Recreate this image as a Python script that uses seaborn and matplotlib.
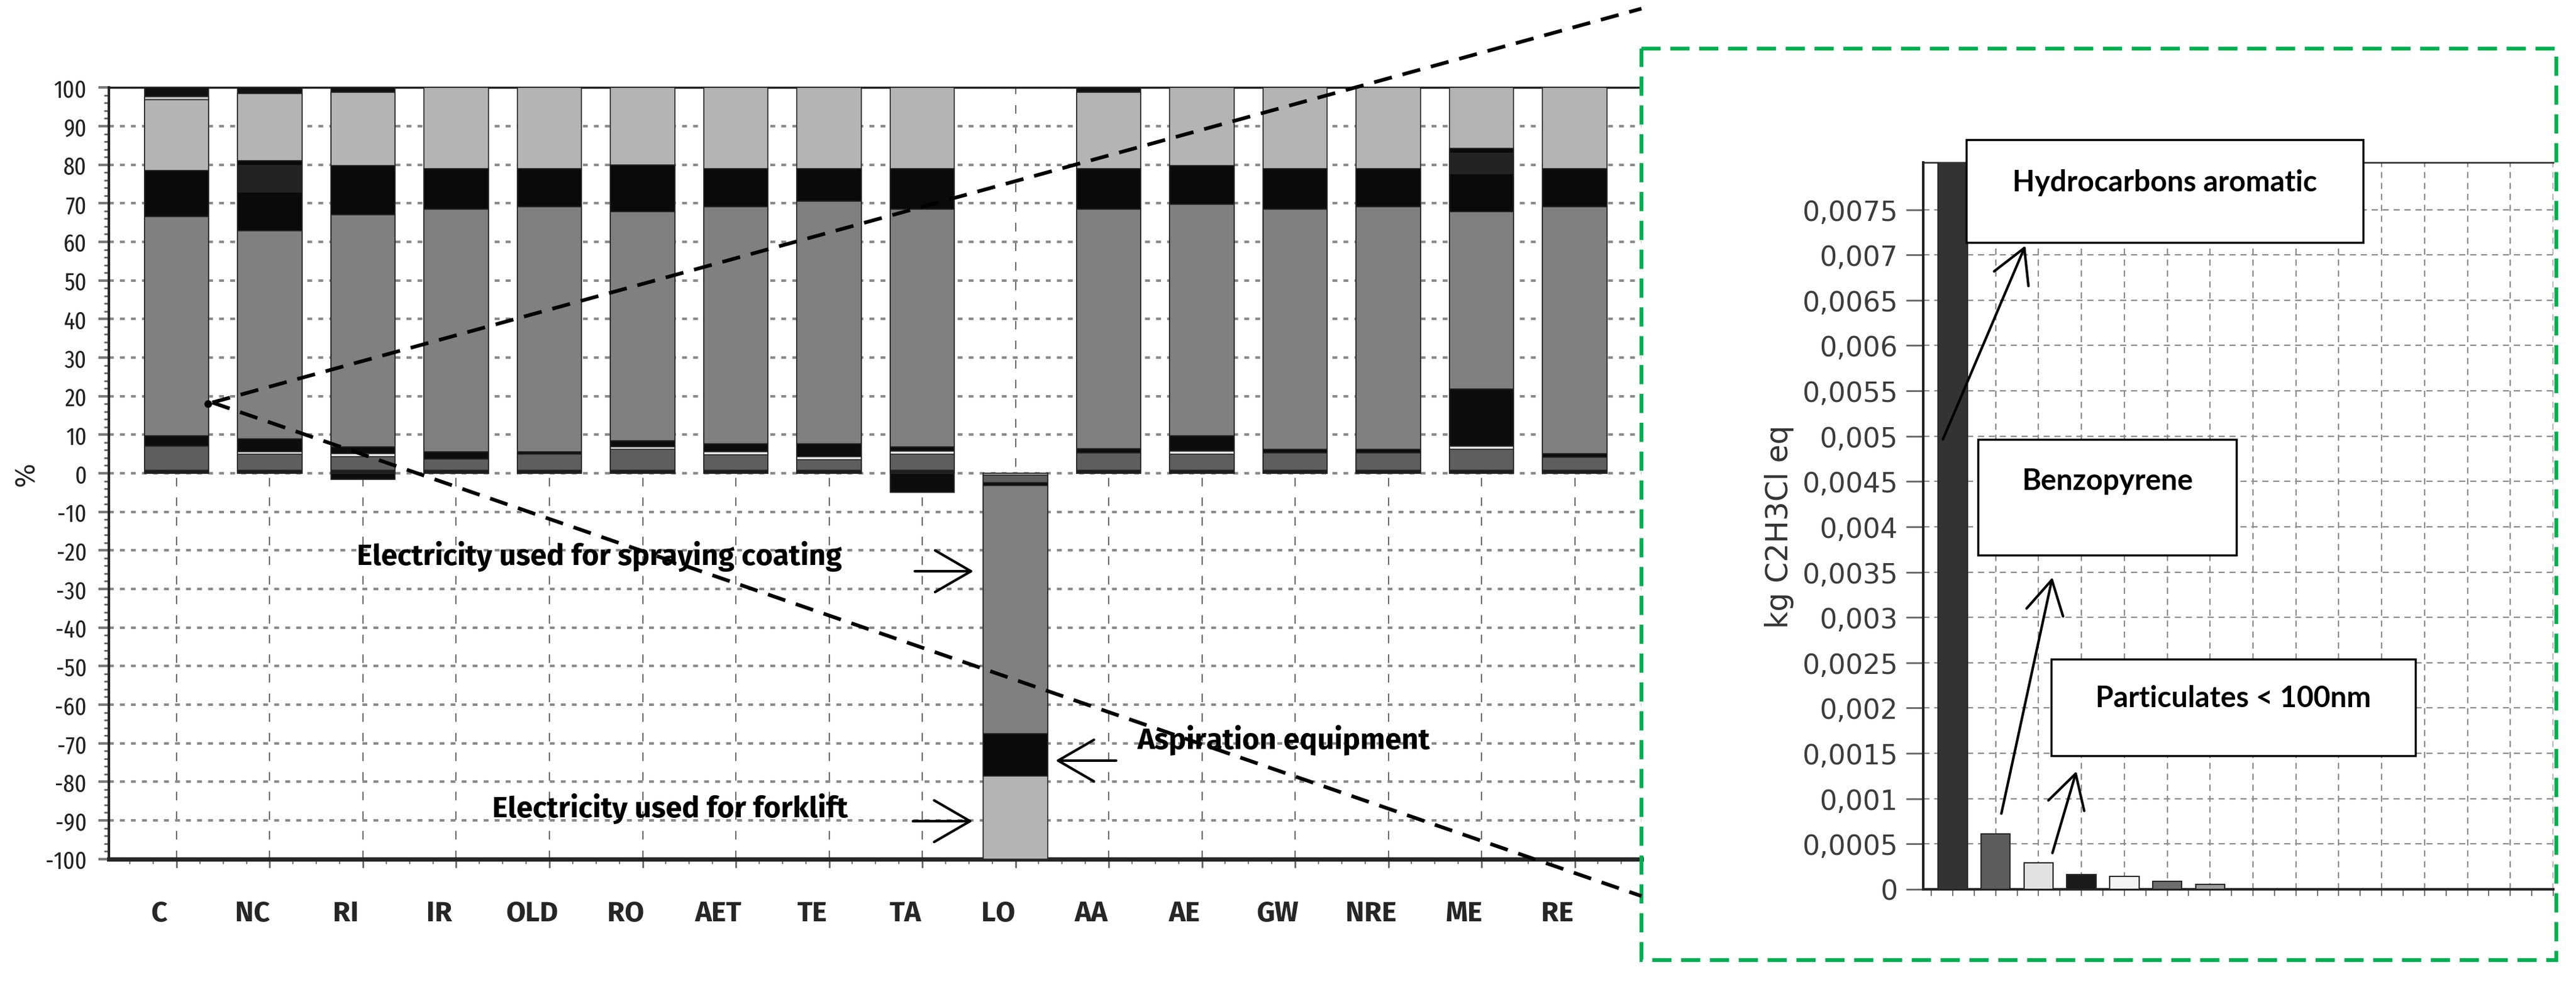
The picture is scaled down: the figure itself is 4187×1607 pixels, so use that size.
import numpy as np
import pandas as pd
import seaborn as sns
import matplotlib.pyplot as plt
from matplotlib.patches import Rectangle
from matplotlib.ticker import MultipleLocator
from matplotlib.transforms import ScaledTranslation

# ---- main chart: contribution of each process (%) per impact category ----
categories = ['C', 'NC', 'RI', 'IR', 'OLD', 'RO', 'AET', 'TE', 'TA', 'LO',
              'AA', 'AE', 'GW', 'NRE', 'ME', 'RE']

# positive stack, bottom to top
base = [0.85, 0.85, 0.85, 0.85, 0.85, 0.85, 0.85, 0.85, 0.85, 0, 0.85, 0.85, 0.85, 0.85, 0.85, 0.85]
dgrey = [6.25, 4.05, 3.4, 2.85, 4.05, 5.35, 4.0, 2.65, 4.1, 0, 4.35, 4.1, 4.35, 4.35, 5.45, 3.25]
wline = [0, 0.7, 0.8, 0, 0, 0.7, 0.75, 0.8, 0.75, 0, 0, 0.75, 0, 0, 0.7, 0]
blk1 = [2.6, 3.4, 1.85, 1.9, 0.7, 1.5, 2.1, 3.4, 1.2, 0, 1.2, 4.0, 1.1, 1.1, 14.9, 0.95]
grey = [56.8, 53.8, 60.1, 62.9, 63.5, 59.4, 61.4, 62.8, 61.6, 0, 62.1, 60.1, 62.2, 62.8, 45.9, 64.05]
blk2 = [12.0, 10.2, 12.8, 10.5, 9.9, 12.2, 9.9, 8.5, 10.5, 0, 10.5, 10.0, 10.5, 9.9, 9.9, 9.9]
dark = [0, 6.8, 0, 0, 0, 0, 0, 0, 0, 0, 0, 0, 0, 0, 5.3, 0]
blk3 = [0, 1.2, 0, 0, 0, 0, 0, 0, 0, 0, 0, 0, 0, 0, 1.3, 0]
lgrey = [18.3, 17.4, 18.9, 21.0, 21.0, 20.0, 21.0, 21.0, 21.0, 0, 19.7, 20.2, 21.0, 21.0, 15.7, 21.0]
lline = [0.8, 0, 0, 0, 0, 0, 0, 0, 0, 0, 0, 0, 0, 0, 0, 0]
top = [2.4, 1.6, 1.3, 0, 0, 0, 0, 0, 0, 0, 1.3, 0, 0, 0, 0, 0]

# negative stack, from 0 downwards
neg_lline = [0, 0, 0, 0, 0, 0, 0, 0, 0, -0.4, 0, 0, 0, 0, 0, 0]
neg_dgrey = [0, 0, 0, 0, 0, 0, 0, 0, 0, -2.0, 0, 0, 0, 0, 0, 0]
neg_blk1 = [0, 0, -1.6, 0, 0, 0, 0, 0, -4.9, -0.8, 0, 0, 0, 0, 0, 0]
neg_grey = [0, 0, 0, 0, 0, 0, 0, 0, 0, -64.3, 0, 0, 0, 0, 0, 0]
neg_blk2 = [0, 0, 0, 0, 0, 0, 0, 0, 0, -11.0, 0, 0, 0, 0, 0, 0]
neg_lgrey = [0, 0, 0, 0, 0, 0, 0, 0, 0, -21.5, 0, 0, 0, 0, 0, 0]

y_ticks = [100, 90, 80, 70, 60, 50, 40, 30, 20, 10, 0, -10, -20, -30, -40, -50, -60, -70, -80, -90, -100]
y_tick_labels = ['100', '90', '80', '70', '60', '50', '40', '30', '20', '10', '0', '-10', '-20',
                 '-30', '-40', '-50', '-60', '-70', '-80', '-90', '-100']

# ---- zoomed chart: substances ----
inset_bars = ['Hydrocarbons aromatic', 'Benzopyrene', 'Particulates < 100nm', 's4', 's5', 's6', 's7']
inset_values = [0.0081, 0.00061, 0.00029, 0.000165, 0.00014, 0.00009, 0.000055]
inset_colors = ['#333333', '#5c5c5c', '#e2e2e2', '#1a1a1a', '#f4f4f4', '#6e6e6e', '#9c9c9c']
inset_ticks = [0, 0.0005, 0.001, 0.0015, 0.002, 0.0025, 0.003, 0.0035, 0.004, 0.0045,
               0.005, 0.0055, 0.006, 0.0065, 0.007, 0.0075]
inset_tick_labels = ['0', '0,0005', '0,001', '0,0015', '0,002', '0,0025', '0,003', '0,0035',
                     '0,004', '0,0045', '0,005', '0,0055', '0,006', '0,0065', '0,007', '0,0075']

seg_colors = {'base': '#1c1c1c', 'dgrey': '#5e5e5e', 'wline': '#e8e8e8', 'blk1': '#0d0d0d',
              'grey': '#808080', 'blk2': '#0a0a0a', 'dark': '#222222', 'blk3': '#0a0a0a',
              'lgrey': '#b4b4b4', 'lline': '#c8c8c8', 'top': '#111111'}

pos = pd.DataFrame({'base': base, 'dgrey': dgrey, 'wline': wline, 'blk1': blk1, 'grey': grey,
                    'blk2': blk2, 'dark': dark, 'blk3': blk3, 'lgrey': lgrey, 'lline': lline,
                    'top': top}, index=categories)
neg = pd.DataFrame({'lline': neg_lline, 'dgrey': neg_dgrey, 'blk1': neg_blk1, 'grey': neg_grey,
                    'blk2': neg_blk2, 'lgrey': neg_lgrey}, index=categories)

sns.set_style('white')
label_font = ['Fira Sans', 'Liberation Sans', 'DejaVu Sans']
xnarrow = ['Liberation Sans Narrow', 'Fira Sans Extra Condensed', 'DejaVu Sans']
plt.rcParams['font.family'] = label_font

W, H = 4187, 1608
fig = plt.figure(figsize=(W / 100, H / 100), dpi=100)


def px_rect(l, t, r, b):
    return [l / W, 1 - b / H, (r - l) / W, (b - t) / H]


ax = fig.add_axes(px_rect(177, 143.3, 2668, 1396.7))


def draw_stack(frame, sign):
    cum = frame.cumsum(axis=1)
    for name in reversed(frame.columns):
        sub = pd.DataFrame({'cat': categories, 'h': cum[name].values, 'v': frame[name].values})
        sub = sub[sub['v'] * sign > 0]
        if sub.empty:
            continue
        sns.barplot(data=sub, x='cat', y='h', order=categories, color=seg_colors[name],
                    width=0.69, saturation=1, edgecolor='#262626', linewidth=1.2,
                    errorbar=None, ax=ax, zorder=3)


draw_stack(pos, 1)
draw_stack(neg, -1)

ax.set_xlim(-0.726, 15.716)
ax.set_ylim(-100, 100)
ax.set_xlabel('')
ax.set_ylabel('%', fontsize=30, color='#222222', family=['DejaVu Sans'])
ax.yaxis.set_label_coords(-0.0454, 0.5)
ax.set_yticks(y_ticks)
ax.set_yticklabels(y_tick_labels, fontsize=29, color='#222222', family=xnarrow)
ax.yaxis.set_minor_locator(MultipleLocator(2))
ax.xaxis.set_minor_locator(MultipleLocator(0.25))
ax.tick_params(axis='y', which='major', left=True, length=12, width=3, color='#7a7a7a', pad=14)
ax.tick_params(axis='y', which='minor', left=True, length=6, width=2, color='#666666')
ax.tick_params(axis='x', which='major', bottom=True, length=10, width=2, color='#666666', pad=38)
ax.tick_params(axis='x', which='minor', bottom=True, length=6, width=1.5, color='#777777')
ax.set_xticks(range(len(categories)))
ax.set_xticklabels(categories, fontsize=33, fontweight='bold')
for lab in ax.get_xticklabels():
    lab.set_transform(lab.get_transform() + ScaledTranslation(-0.28, 0, fig.dpi_scale_trans))

ax.set_axisbelow(True)
ax.grid(axis='y', which='major', color='#8a8a8a', lw=3, ls=(0, (1.9, 2.4)))
ax.grid(axis='x', which='major', color='#6a6a6a', lw=1.5, ls=(0, (6.7, 8.6)))
ax.spines['right'].set_visible(False)
ax.spines['left'].set_linewidth(3)
ax.spines['top'].set_linewidth(2.5)
ax.spines['top'].set_color('#222222')
ax.spines['bottom'].set_linewidth(5)

bold_label = dict(fontsize=34.5, fontweight='bold', family=label_font, color='black')
ax.text(7.14, -23.6, 'Electricity used for spraying coating', ha='right', va='baseline', **bold_label)
ax.text(7.2, -89.0, 'Electricity used for forklift', ha='right', va='baseline', **bold_label)
ax.text(10.31, -71.2, 'Aspiration equipment', ha='left', va='baseline', **bold_label)
big_head = dict(arrowstyle='->,head_length=1,head_width=0.58', mutation_scale=42, lw=3,
                color='black', shrinkA=0, shrinkB=0)
ax.annotate('', xy=(8.55, -25.4), xytext=(7.92, -25.4), arrowprops=big_head, zorder=6)
ax.annotate('', xy=(9.43, -74.5), xytext=(10.08, -74.5), arrowprops=big_head, zorder=6)
ax.annotate('', xy=(8.54, -90.2), xytext=(7.90, -90.2), arrowprops=big_head, zorder=6)

# ---- inset ----
axi = fig.add_axes(px_rect(3126, 265, 4150, 1446))
sns.barplot(x=inset_bars, y=inset_values, hue=inset_bars, palette=inset_colors, legend=False,
            width=0.68, saturation=1, edgecolor='#2a2a2a', linewidth=1.5, ax=axi, zorder=3)
axi.set_xlim(-0.688, 13.98)
axi.set_ylim(0, 0.00802)
axi.set_xticks(range(15))
axi.set_xticklabels([''] * 15)
axi.xaxis.set_minor_locator(MultipleLocator(0.5))
axi.set_yticks(inset_ticks)
axi.set_yticklabels(inset_tick_labels, fontsize=32, color='#3c3c3c', family=['DejaVu Sans'])
axi.set_ylabel('kg C2H3Cl eq', fontsize=35, color='#333333', family=['DejaVu Sans'])
axi.yaxis.set_label_coords(-0.205, 0.5)
axi.tick_params(axis='y', left=True, length=20, width=2, color='#666666', pad=10)
axi.tick_params(axis='x', which='both', bottom=True, length=8, width=1.5, color='#777777')
axi.set_axisbelow(True)
axi.grid(axis='both', which='major', color='#8c8c8c', lw=1.6, ls=(0, (4.5, 3.5)))
axi.spines['right'].set_visible(False)
axi.spines['left'].set_linewidth(3)
axi.spines['left'].set_color('#222222')
axi.spines['top'].set_linewidth(1.8)
axi.spines['bottom'].set_linewidth(3)

# ---- overlay: zoom lines, frame, callouts ----
ov = fig.add_axes([0, 0, 1, 1], zorder=10)
ov.set_xlim(0, W)
ov.set_ylim(H, 0)
ov.axis('off')
zoom_ls = (0, (5, 3))
ov.plot([345, 2668], [655, 15], color='black', lw=4.3, ls=zoom_ls)
ov.plot([345, 2668], [655, 1457], color='black', lw=4.3, ls=zoom_ls)
ov.plot([338], [657], marker='o', ms=8, color='black')
ov.add_patch(Rectangle((2668, 80), 4155 - 2668, 1561 - 80, fill=False, edgecolor='#00b050',
                       lw=4.5, ls=(0, (5, 2.5))))

box_font = dict(fontsize=34, fontweight='bold', family=['Lato', 'DejaVu Sans'], color='black',
                ha='center', va='center')
for (l, t, r, b), label, ty in [((3196, 228, 3841, 395), inset_bars[0], 297),
                                ((3215, 715, 3635, 903), inset_bars[1], 782),
                                ((3334, 1072, 3926, 1229), inset_bars[2], 1135)]:
    ov.add_patch(Rectangle((l, t), r - l, b - t, facecolor='white', edgecolor='black', lw=2.5))
    ov.text((l + r) / 2, ty, label, **box_font)

small_head = dict(arrowstyle='->,head_length=1,head_width=0.56', mutation_scale=39, lw=3,
                  color='black', shrinkA=0, shrinkB=0)
ov.annotate('', xy=(3292, 400), xytext=(3158, 715), arrowprops=small_head)
ov.annotate('', xy=(3336, 939), xytext=(3253, 1323), arrowprops=small_head)
ov.annotate('', xy=(3375, 1254), xytext=(3336, 1387), arrowprops=small_head)

fig.savefig('out.png', dpi=100)
